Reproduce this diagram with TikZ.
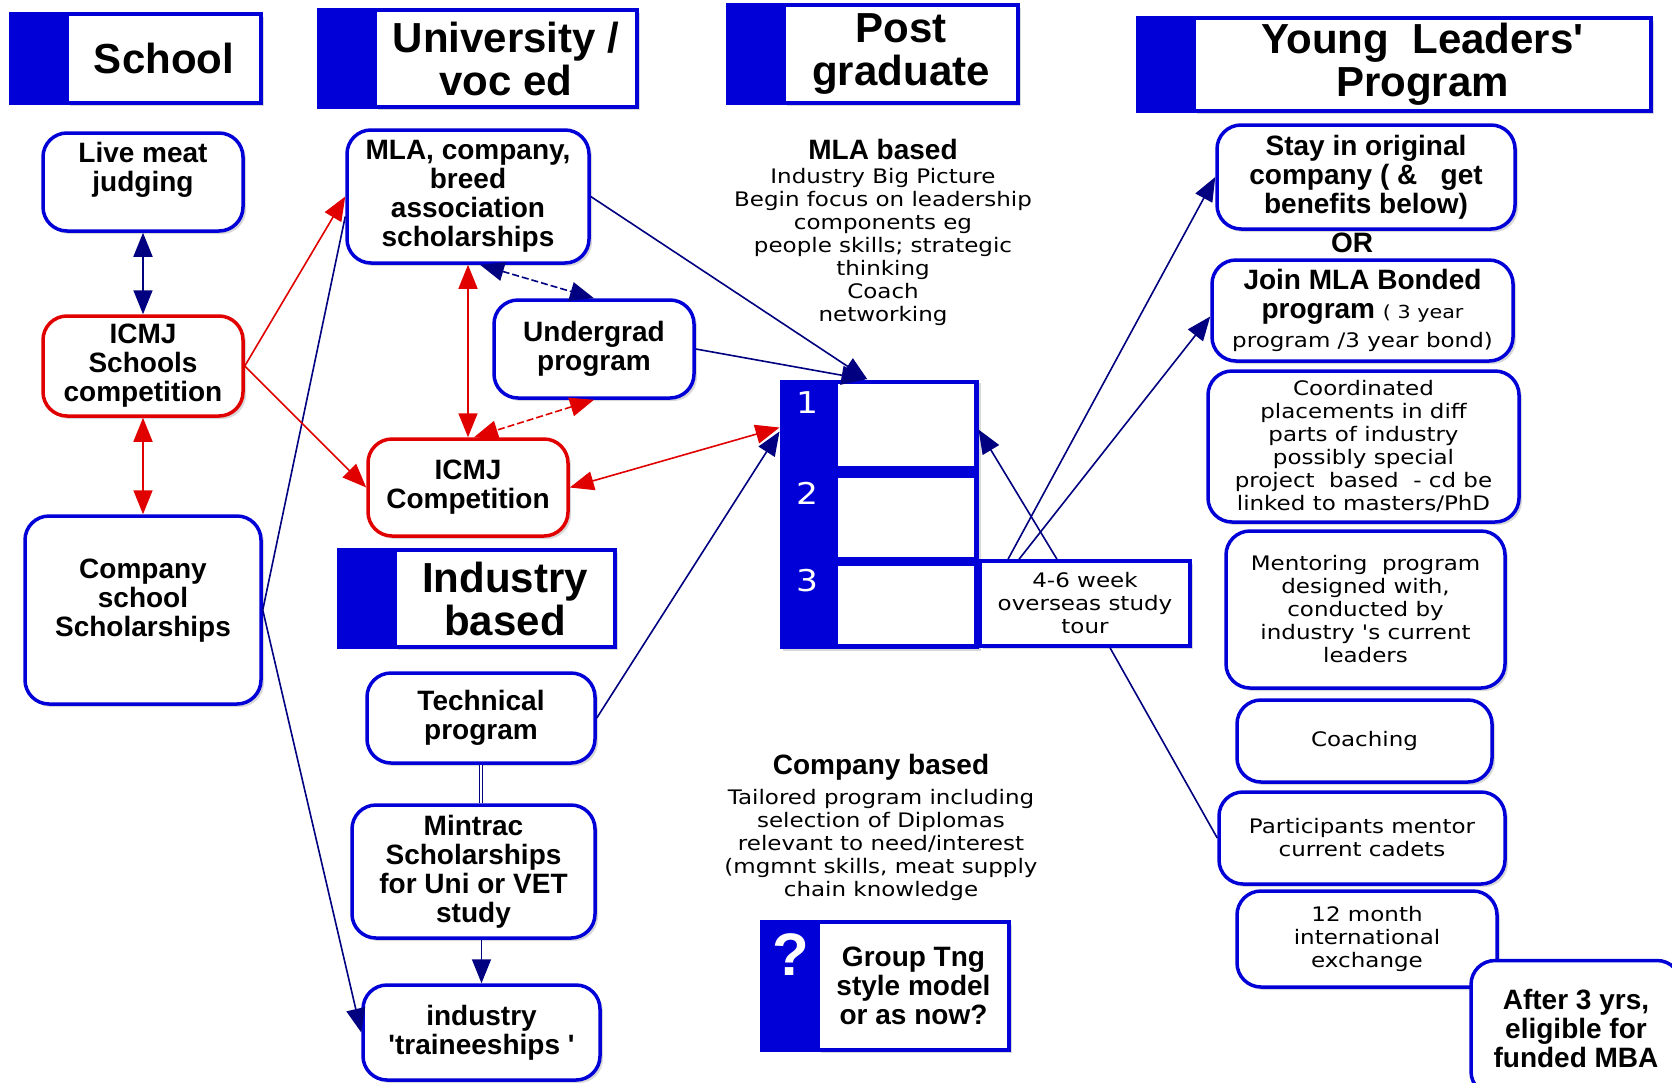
\documentclass[tikz,border=0pt]{standalone}
\usepackage{fontspec}
\setmainfont{Liberation Sans}
\newfontfamily\pixfont[FakeStretch=1.15]{DejaVu Sans}
\usetikzlibrary{arrows.meta,shadows,positioning}
\definecolor{ylblue}{RGB}{0,0,215}
\definecolor{ylnavy}{RGB}{0,0,128}
\definecolor{ylred}{RGB}{225,0,0}
\tikzset{shdw/.style={drop shadow={shadow xshift=3pt, shadow yshift=-3pt, opacity=.3}},
  box/.style={draw=ylblue, line width=3.5pt, fill=white, rounded corners=24pt, align=center, inner sep=2pt, shdw, font=\fontsize{28}{29}\selectfont\bfseries},
  redbox/.style={box, draw=ylred},
  pbox/.style={box, font=\pixfont\fontsize{20}{23}\selectfont},
  hdr/.style={draw=ylblue, line width=3.5pt, fill=white, align=center, shdw, font=\fontsize{42}{43}\selectfont\bfseries},
  cell/.style={draw=ylblue, line width=2pt, fill=white, minimum width=138pt},
  txt/.style={align=center, font=\pixfont\fontsize{20}{23}\selectfont},
  ttl/.style={font=\fontsize{28}{29}\selectfont\bfseries},
  nvl/.style={draw=ylnavy, line width=1.6pt},
  rdl/.style={draw=ylred, line width=1.6pt},
  dsh/.style={dash pattern=on 7pt off 3pt},
  >={Triangle[length=24pt,width=19pt]}}

\begin{document}
\begin{tikzpicture}[x=1pt,y=-1pt]
    \path[use as bounding box, fill=white] (0,0) rectangle (1672,1082);
    \node[hdr, minimum width=194pt, minimum height=89pt] (hSch) at (164,58.5) {School};
    \node[hdr, minimum width=262pt, minimum height=97pt] (hUni) at (506,58.5) {University /\\voc ed};
    \node[hdr, minimum width=234pt, minimum height=98pt] (hPost) at (901,54) {Post\\graduate};
    \node[hdr, minimum width=457pt, minimum height=93pt] (hYoung) at (1422.5,64.5) {Young\ \ Leaders\textquotesingle\\Program};
    \node[hdr, minimum width=220pt, minimum height=97pt] (hInd) at (505,598.5) {Industry\\based};
    \node[hdr, minimum width=191pt, minimum height=128pt, font=\fontsize{28}{29}\selectfont\bfseries] (hQ) at (913.5,986) {Group Tng\\style model\\or as now?};
    \foreach \h in {hSch,hUni,hPost,hYoung,hInd,hQ}
        \fill[ylblue] (\h.north west) rectangle ([xshift=-56pt]\h.south west);
    \node[text=white, font=\fontsize{60}{60}\selectfont\bfseries] (qMark) at (791,955) {?};

    \node[box, minimum width=200pt, minimum height=98pt] (nLive) at (143,182) {Live meat\\judging\\[-8pt]\strut};
    \node[redbox, minimum width=200pt, minimum height=100pt] (nSchComp) at (143,366) {ICMJ\\Schools\\competition};
    \node[box, minimum width=236pt, minimum height=188pt] (nCoSch) at (143,610) {Company\\school\\Scholarships\\[-14pt]\strut};
    \node[box, minimum width=242pt, minimum height=133pt] (nMLA) at (468,196.5) {MLA, company,\\breed\\association\\scholarships};
    \node[box, minimum width=200pt, minimum height=98pt] (nUnder) at (594,349) {Undergrad\\program};
    \node[redbox, minimum width=200pt, minimum height=97pt] (nComp) at (468,487.5) {ICMJ\\Competition};
    \node[box, minimum width=228pt, minimum height=90pt] (nTech) at (481,718) {Technical\\program};
    \node[box, minimum width=243pt, minimum height=133pt] (nMintrac) at (473.5,871.5) {Mintrac\\Scholarships\\for Uni or VET\\study};
    \node[box, minimum width=237pt, minimum height=95pt] (nTrain) at (481.5,1032.5) {industry\\\textquotesingle traineeships \textquotesingle};

    \node[fill=ylblue, draw=ylblue, line width=1pt, minimum width=198pt, minimum height=268pt, shdw] (stack) at (879,514) {};
    \node[cell, minimum height=84pt] (r1) at (906,425) {};
    \node[cell, minimum height=81pt] (r2) at (906,517.5) {};
    \node[cell, minimum height=80pt] (r3) at (906,605) {};
    \node[text=white, font=\pixfont\fontsize{30}{30}\selectfont] (d1) at (807,403) {1};
    \node[text=white, font=\pixfont\fontsize{30}{30}\selectfont] (d2) at (807,493) {2};
    \node[text=white, font=\pixfont\fontsize{30}{30}\selectfont] (d3) at (807,581) {3};
    \node[pbox, sharp corners, minimum width=210pt, minimum height=85pt] (nTour) at (1085,603.5) {4-6 week\\overseas study\\tour};

    \node[ttl] (mlaHd) at (883,149) {MLA based};
    \node[txt, below=2pt of mlaHd] (mlaTxt) {Industry Big Picture\\Begin focus on leadership\\components eg\\people skills; strategic\\thinking\\Coach\\networking};
    \node[ttl] (comHd) at (881,767) {Company based};
    \node[txt, below=2pt of comHd] (comTxt) {Tailored program including\\selection of Diplomas\\relevant to need/interest\\(mgmnt skills, meat supply\\chain knowledge};

    \node[box, minimum width=298pt, minimum height=104pt] (nStay) at (1366,177) {Stay in original\\company ( \&\ \ \ get\\benefits below)};
    \node[ttl] (orTxt) at (1352,243) {OR};
    \node[box, minimum width=301pt, minimum height=101pt] (nJoin) at (1362.5,310.5) {Join MLA Bonded\\program {\pixfont\fontsize{18}{23}\selectfont\mdseries ( 3 year}\\{\pixfont\fontsize{20}{23}\selectfont\mdseries program /3 year bond)}};
    \node[pbox, minimum width=311pt, minimum height=151pt] (nCoord) at (1363.5,446.5) {Coordinated\\placements in diff\\parts of industry\\possibly special\\project\ \ based\ \ - cd be\\linked to masters/PhD};
    \node[pbox, minimum width=279pt, minimum height=157pt] (nMentor) at (1365.5,609.5) {Mentoring\ \ program\\designed with,\\conducted by\\industry 's current\\leaders};
    \node[pbox, minimum width=255pt, minimum height=82pt] (nCoach) at (1364.5,741) {Coaching};
    \node[pbox, minimum width=286pt, minimum height=92pt] (nPart) at (1362,838) {Participants mentor\\current cadets};
    \node[pbox, minimum width=260pt, minimum height=96pt] (nExch) at (1367,939) {12 month\\international\\exchange};
    \node[box, minimum width=210pt, minimum height=135pt] (nMBA) at (1576,1028) {After 3 yrs,\\eligible for\\funded MBA};

    \draw[nvl,<->] (nLive) -- (nSchComp);
    \draw[rdl,<->] (nSchComp) -- (nCoSch);
    \draw[nvl] (nCoSch.east) -- ([yshift=-20pt]nMLA.west);
    \draw[nvl,->] (nCoSch.east) -- (nTrain.west);
    \draw[rdl,->] (nSchComp.east) -- (nMLA.west);
    \draw[rdl,->] (nSchComp.east) -- (nComp.west);
    \draw[rdl,<->] (nMLA) -- (nComp);
    \draw[nvl,dsh,<->] ([xshift=12pt]nMLA.south) -- (nUnder.north);
    \draw[rdl,dsh,<->] (nUnder.south) -- ([xshift=6pt]nComp.north);
    \draw[nvl,->] (nMLA.east) -- ([xshift=88pt]stack.north west);
    \draw[nvl,->] (nUnder.east) -- ([xshift=86pt]stack.north west);
    \draw[nvl,->] (nTech.east) -- ([yshift=-52pt]stack.north west);
    \draw[rdl,<->] (nComp.east) -- ([yshift=-48pt]stack.north west);
    \draw[ylnavy, double, double distance=2pt, line width=1pt] (nTech.south) -- (nTech.south |- nMintrac.north);
    \draw[nvl,->] (nTrain.north |- nMintrac.south) -- (nTrain.north);
    \draw[nvl,->] ([xshift=-28pt]nTour.north) -- ([yshift=-50pt]stack.north east);
    \draw[nvl,->] ([xshift=-77pt]nTour.north) -- (nStay.west);
    \draw[nvl,->] ([xshift=-66pt]nTour.north) -- ([yshift=-6pt]nJoin.west);
    \draw[nvl] ([xshift=25pt]nTour.south) -- (nPart.west);
\end{tikzpicture}
\end{document}
